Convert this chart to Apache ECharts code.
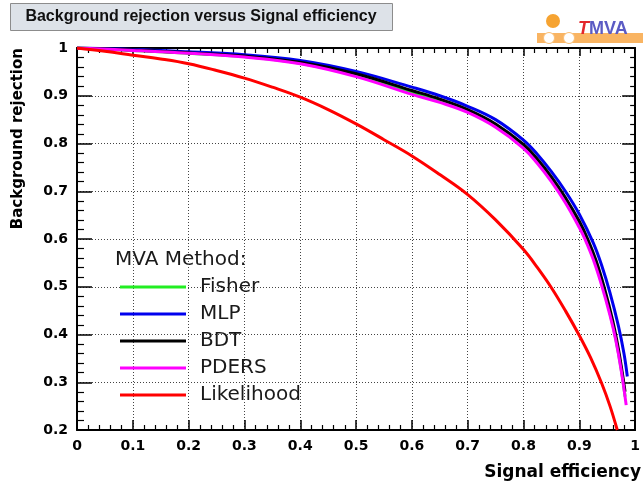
<!DOCTYPE html>
<html>
<head>
<meta charset="utf-8">
<script src="https://cdn.jsdelivr.net/npm/echarts@6/dist/echarts.min.js"></script>
<style>
  html, body { margin: 0; padding: 0; background: #ffffff; }
  #chart { width: 643px; height: 491px; }
</style>
</head>
<body>
<div id="chart"></div>
<script>
// ROC curves: background rejection as a function of signal efficiency
const methodNames = ['Fisher', 'MLP', 'BDT', 'PDERS', 'Likelihood'];
const methodColors = ['#22ee22', '#0000ee', '#000000', '#ff00ff', '#ff0000'];

const fisherEff = [0, 0.1, 0.2, 0.3, 0.4, 0.5, 0.6, 0.65, 0.7, 0.75, 0.8, 0.825, 0.85, 0.875, 0.9, 0.915, 0.93, 0.945, 0.96, 0.97, 0.977, 0.982];
const fisherRej = [1.0, 0.995, 0.989, 0.982, 0.968, 0.943, 0.907, 0.889, 0.868, 0.837, 0.794, 0.762, 0.725, 0.681, 0.630, 0.594, 0.548, 0.49, 0.42, 0.362, 0.313, 0.27];

const mlpEff = [0, 0.1, 0.2, 0.3, 0.4, 0.5, 0.6, 0.65, 0.7, 0.75, 0.8, 0.825, 0.85, 0.875, 0.9, 0.925, 0.94, 0.955, 0.97, 0.98, 0.986];
const mlpRej = [1.0, 0.997, 0.992, 0.986, 0.974, 0.951, 0.918, 0.900, 0.878, 0.850, 0.807, 0.777, 0.741, 0.700, 0.652, 0.592, 0.545, 0.487, 0.418, 0.36, 0.312];

const bdtEff = [0, 0.1, 0.2, 0.3, 0.4, 0.5, 0.6, 0.65, 0.7, 0.75, 0.8, 0.825, 0.85, 0.875, 0.9, 0.915, 0.93, 0.945, 0.96, 0.97, 0.977, 0.982];
const bdtRej = [1.0, 0.996, 0.990, 0.983, 0.970, 0.946, 0.911, 0.893, 0.871, 0.841, 0.798, 0.767, 0.730, 0.687, 0.637, 0.600, 0.555, 0.497, 0.428, 0.37, 0.32, 0.28];

const pdersEff = [0, 0.1, 0.2, 0.3, 0.4, 0.5, 0.6, 0.65, 0.7, 0.75, 0.8, 0.825, 0.85, 0.875, 0.9, 0.91, 0.925, 0.94, 0.955, 0.965, 0.975, 0.984];
const pdersRej = [1.0, 0.995, 0.989, 0.981, 0.967, 0.940, 0.903, 0.886, 0.865, 0.834, 0.790, 0.758, 0.720, 0.676, 0.624, 0.600, 0.557, 0.503, 0.44, 0.39, 0.325, 0.252];

const likelihoodEff = [0, 0.05, 0.1, 0.15, 0.2, 0.25, 0.3, 0.35, 0.4, 0.45, 0.5, 0.55, 0.6, 0.65, 0.7, 0.75, 0.8, 0.825, 0.85, 0.875, 0.9, 0.92, 0.94, 0.955, 0.968];
const likelihoodRej = [1.0, 0.993, 0.985, 0.977, 0.967, 0.953, 0.937, 0.918, 0.897, 0.871, 0.841, 0.808, 0.774, 0.735, 0.693, 0.640, 0.578, 0.540, 0.498, 0.450, 0.398, 0.352, 0.298, 0.250, 0.2];

const effAxisRange = [0, 1];
const rejAxisRange = [0.2, 1];
const tickStep = 0.1;

const curveEff = [fisherEff, mlpEff, bdtEff, pdersEff, likelihoodEff];
const curveRej = [fisherRej, mlpRej, bdtRej, pdersRej, likelihoodRej];

const zip = (xs, ys) => xs.map((x, i) => [x, ys[i]]);

const tickFont = { fontFamily: 'DejaVu Sans', fontWeight: 'bold', fontSize: 14, color: '#000' };
const gridDots = { show: true, lineStyle: { color: '#444', width: 1, type: [1, 2] } };
const frameLine = { show: true, onZero: false, lineStyle: { color: '#000', width: 2 } };

const chart = echarts.init(document.getElementById('chart'), null, { renderer: 'canvas' });

chart.setOption({
  animation: false,
  backgroundColor: '#ffffff',
  grid: { left: 77, right: 2, top: 48, bottom: 61, containLabel: false },
  xAxis: [
    {
      type: 'value', position: 'bottom',
      min: effAxisRange[0], max: effAxisRange[1], interval: tickStep,
      axisLine: frameLine,
      axisTick: { show: true, inside: true, length: 10, lineStyle: { color: '#000', width: 1.5 } },
      minorTick: { show: true, splitNumber: 5, length: 5, lineStyle: { color: '#000', width: 1.2 } },
      axisLabel: Object.assign({ margin: 9, showMaxLabel: true, showMinLabel: true }, tickFont),
      splitLine: gridDots
    },
    {
      type: 'value', position: 'top',
      min: effAxisRange[0], max: effAxisRange[1], interval: tickStep,
      axisLine: frameLine,
      axisTick: { show: true, inside: true, length: 8, lineStyle: { color: '#000', width: 1.5 } },
      minorTick: { show: true, splitNumber: 5, length: 5, lineStyle: { color: '#000', width: 1.2 } },
      axisLabel: { show: false },
      splitLine: { show: false }
    }
  ],
  yAxis: [
    {
      type: 'value', position: 'left',
      min: rejAxisRange[0], max: rejAxisRange[1], interval: tickStep,
      axisLine: frameLine,
      axisTick: { show: true, inside: true, length: 15, lineStyle: { color: '#000', width: 1.5 } },
      minorTick: { show: true, splitNumber: 5, length: 7, lineStyle: { color: '#000', width: 1.2 } },
      axisLabel: Object.assign({ margin: 9, showMaxLabel: true, showMinLabel: true }, tickFont),
      splitLine: gridDots
    },
    {
      type: 'value', position: 'right',
      min: rejAxisRange[0], max: rejAxisRange[1], interval: tickStep,
      axisLine: frameLine,
      axisTick: { show: true, inside: true, length: 13, lineStyle: { color: '#000', width: 1.5 } },
      minorTick: { show: true, splitNumber: 5, length: 5, lineStyle: { color: '#000', width: 1.2 } },
      axisLabel: { show: false },
      splitLine: { show: false }
    }
  ],
  legend: {
    orient: 'vertical',
    left: 115, top: 272,
    icon: 'rect',
    itemWidth: 66, itemHeight: 3,
    itemGap: 7,
    data: methodNames,
    textStyle: { fontFamily: 'DejaVu Sans', fontSize: 20, lineHeight: 20, color: '#1a1a1a', padding: [0, 0, 0, 9] }
  },
  series: methodNames.map((name, i) => ({
    name: name,
    type: 'line',
    xAxisIndex: 0, yAxisIndex: 0,
    data: zip(curveEff[i], curveRej[i]),
    showSymbol: false,
    smooth: 0.4,
    color: methodColors[i],
    lineStyle: { color: methodColors[i], width: 3 },
    z: 3 + i
  })),
  graphic: [
    // title box
    {
      type: 'rect', left: 10, top: 3,
      shape: { width: 382, height: 27 },
      style: { fill: '#dde2e8', stroke: '#8c8c8c', lineWidth: 1 }
    },
    {
      type: 'text', x: 201, y: 17,
      style: {
        text: 'Background rejection versus Signal efficiency',
        fontFamily: 'Liberation Sans', fontWeight: 'bold', fontSize: 16,
        fill: '#111', align: 'center', verticalAlign: 'middle'
      }
    },
    // TMVA logo
    { type: 'circle', shape: { cx: 553, cy: 21, r: 7 }, style: { fill: '#f6a331' } },
    { type: 'rect', shape: { x: 537, y: 33, width: 106, height: 10 }, style: { fill: '#f9b462' } },
    { type: 'circle', shape: { cx: 549, cy: 38, r: 5.5 }, style: { fill: '#ffffff', stroke: '#f9c07a', lineWidth: 1 } },
    { type: 'circle', shape: { cx: 569, cy: 38, r: 5.5 }, style: { fill: '#ffffff', stroke: '#f9c07a', lineWidth: 1 } },
    {
      type: 'text', x: 578, y: 29,
      style: {
        text: '{t|T}{m|MVA}',
        verticalAlign: 'middle', align: 'left',
        rich: {
          t: { fontFamily: 'Liberation Sans', fontWeight: 'bold', fontStyle: 'italic', fontSize: 18, fill: '#e3262b' },
          m: { fontFamily: 'Liberation Sans', fontWeight: 'bold', fontSize: 18, fill: '#5b5bc4' }
        }
      }
    },
    // axis titles
    {
      type: 'text', x: 18, y: 48, rotation: Math.PI / 2,
      style: {
        text: 'Background rejection',
        fontFamily: 'DejaVu Sans', fontWeight: 'bold', fontSize: 15,
        fill: '#000', align: 'right', verticalAlign: 'middle'
      }
    },
    {
      type: 'text', x: 641, y: 473,
      style: {
        text: 'Signal efficiency',
        fontFamily: 'DejaVu Sans', fontWeight: 'bold', fontSize: 17,
        fill: '#000', align: 'right', verticalAlign: 'middle'
      }
    },
    // legend heading
    {
      type: 'text', x: 115, y: 260,
      style: {
        text: 'MVA Method:',
        fontFamily: 'DejaVu Sans', fontSize: 20,
        fill: '#1a1a1a', align: 'left', verticalAlign: 'middle'
      }
    }
  ]
});
</script>
</body>
</html>
